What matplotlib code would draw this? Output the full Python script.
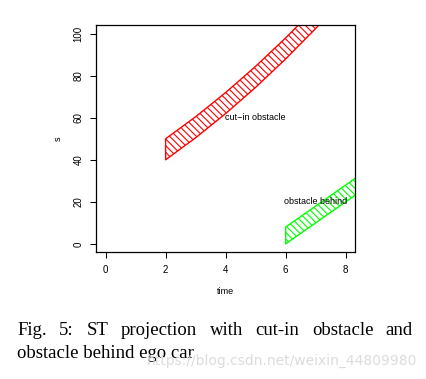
import matplotlib
matplotlib.use("Agg")
import matplotlib.pyplot as plt

# data
cutin_t = [2, 3, 4, 5, 6, 7, 8]
cutin_lower = [40, 50.5, 62, 74.5, 88, 102.5, 118]
cutin_upper = [50, 60.5, 72, 84.5, 98, 112.5, 128]
behind_t = [6, 7, 8, 9]
behind_lower = [0, 10, 20, 30]
behind_upper = [8, 18, 28, 38]
xticks = [0, 2, 4, 6, 8]
yticks = [0, 20, 40, 60, 80, 100]
labels = [("cut\u2212in obstacle", 5, 60), ("obstacle behind", 7, 20)]
caption1 = "Fig. 5: ST projection with cut-in obstacle and"
caption2 = "obstacle behind ego car"
watermark = "https://blog.csdn.net/weixin_44809980"

plt.rcParams['hatch.linewidth'] = 0.8
W, H = 427, 379
fig = plt.figure(figsize=(W/100, H/100), dpi=100)
ax = fig.add_axes([96/W, 1-252.3/H, (355.3-96)/W, (252.3-25.3)/H])

ax.fill_between(cutin_t, cutin_lower, cutin_upper, facecolor='none',
                edgecolor='#ff0000', hatch='\\\\\\\\\\', linewidth=1.0)
ax.fill_between(behind_t, behind_lower, behind_upper, facecolor='none',
                edgecolor='#00ff00', hatch='\\\\\\\\\\', linewidth=1.0)
for txt, x, y in labels:
    ax.text(x, y, txt, ha='center', va='center', fontsize=6.5,
            family='Liberation Sans')

ax.set_xlim(-0.32, 8.32)
ax.set_ylim(-4, 104)
ax.set_xticks(xticks)
ax.set_yticks(yticks)
ax.set_xticklabels([str(v) for v in xticks], family='Liberation Sans', fontsize=7)
ax.set_yticklabels([str(v) for v in yticks], family='Liberation Sans', fontsize=7,
                   rotation=90, va='center')
ax.tick_params(direction='out', length=4.3, width=0.75, pad=4.5)
for s in ax.spines.values():
    s.set_linewidth(0.9)
ax.set_xlabel("time", family='Liberation Sans', fontsize=6.5, labelpad=9)
ax.set_ylabel("s", family='Liberation Sans', fontsize=6.5, labelpad=8)

# caption with justified first line
fig.canvas.draw()
r = fig.canvas.get_renderer()
words = caption1.split(" ")
x0, x1 = 17 / W, 413 / W
texts = [fig.text(0, 1-335/H, w, family='Liberation Serif', fontsize=13.5,
                  ha='left', va='baseline') for w in words]
widths = [t.get_window_extent(r).width / W for t in texts]
gap = (x1 - x0 - sum(widths)) / (len(words) - 1)
x = x0
for t, w in zip(texts, widths):
    t.set_x(x)
    x += w + gap
fig.text(x0, 1-358/H, caption2, family='Liberation Serif', fontsize=13.5,
         ha='left', va='baseline')
fig.text(147/W, 1-365/H, watermark, family='DejaVu Sans', fontsize=10.0,
         color='#dcdcdc', ha='left', va='baseline')

fig.savefig("out.png", dpi=100)
